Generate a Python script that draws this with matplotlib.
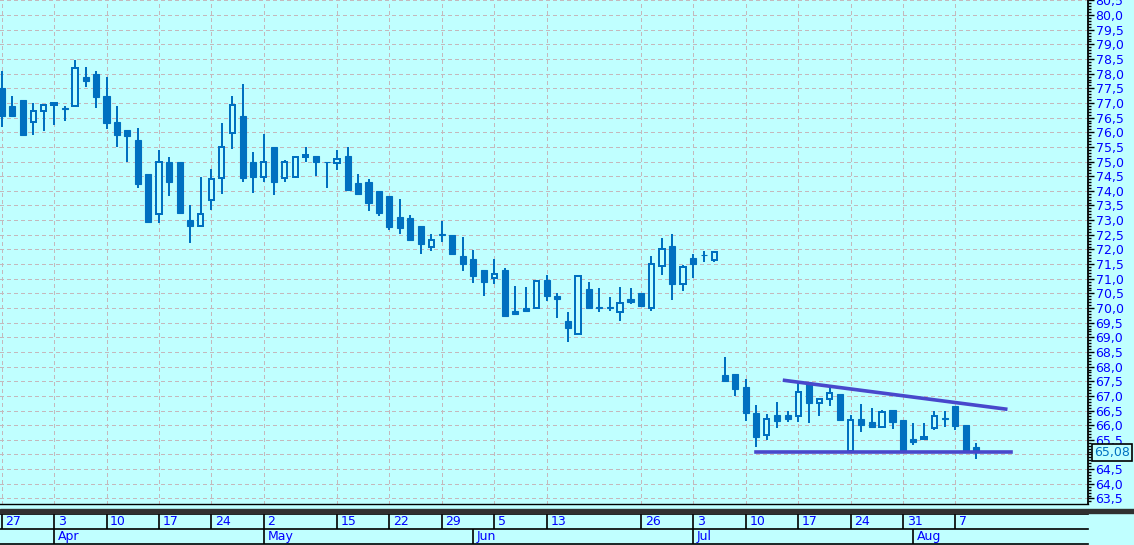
import numpy as np
import pandas as pd
import matplotlib
matplotlib.use('Agg')
from matplotlib import pyplot as plt
from matplotlib.ticker import MultipleLocator, FuncFormatter, FixedLocator
import matplotlib.transforms as mtransforms

# trading days (Russian market, 2017)
holidays = ['2017-05-01', '2017-05-08', '2017-05-09', '2017-06-12']
days = pd.bdate_range('2017-03-27', '2017-08-09')
days = days[~days.isin(pd.to_datetime(holidays))]

opens = [77.51, 76.91, 77.11, 76.34, 76.72, 76.93, 76.84, 76.90, 77.89, 78.00,
         77.25, 76.36, 76.08, 75.72, 74.58, 73.22, 75.00, 75.00, 73.02, 72.81,
         73.69, 74.44, 75.98, 76.57, 74.97, 74.47, 75.51, 74.44, 74.47, 75.16,
         75.19, 75.00, 74.94, 75.19, 74.27, 74.31, 74.00, 73.83, 73.11, 73.08,
         72.81, 72.08, 72.54, 72.50, 71.78, 71.68, 71.31, 71.02, 71.31, 69.91,
         70.01, 70.00, 70.97, 70.41, 69.57, 69.11, 70.66, 70.05, 70.05, 69.85,
         70.32, 70.52, 69.99, 71.45, 72.13, 70.81, 71.72, 71.81, 71.64, 67.72,
         67.75, 67.31, 66.41, 65.68, 66.34, 66.34, 66.30, 67.43, 66.75, 66.89,
         67.06, 65.13, 66.22, 66.11, 65.93, 66.51, 66.17, 65.52, 65.52, 65.90,
         66.25, 66.66, 66.01, 65.25]
closes = [76.57, 76.57, 75.92, 76.73, 76.93, 77.00, 76.80, 78.19, 77.76, 77.19,
          76.31, 75.90, 75.86, 74.23, 72.95, 75.00, 74.30, 73.24, 72.80, 73.22,
          74.41, 75.50, 76.94, 74.43, 74.47, 75.00, 74.30, 75.00, 75.16, 75.23,
          75.00, 75.00, 75.09, 74.03, 73.90, 73.57, 73.23, 72.75, 72.72, 72.31,
          72.17, 72.32, 72.50, 71.86, 71.49, 71.11, 70.90, 71.16, 69.72, 69.78,
          69.89, 70.93, 70.40, 70.30, 69.31, 71.09, 69.99, 69.99, 69.99, 70.18,
          70.19, 70.06, 71.50, 72.01, 70.81, 71.41, 71.49, 71.81, 71.91, 67.52,
          67.25, 66.40, 65.61, 66.20, 66.14, 66.20, 67.13, 66.75, 66.89, 67.09,
          66.18, 66.17, 66.02, 65.93, 66.44, 66.10, 65.13, 65.42, 65.59, 66.30,
          66.22, 65.98, 65.13, 65.08]
highs = [78.08, 77.25, 77.11, 76.99, 76.93, 77.00, 76.91, 78.48, 78.24, 78.10,
         77.88, 76.88, 76.08, 76.15, 74.58, 75.41, 75.14, 75.00, 73.53, 74.47,
         74.76, 76.33, 77.25, 77.66, 75.34, 75.95, 75.51, 75.06, 75.16, 75.51,
         75.19, 75.00, 75.38, 75.51, 74.58, 74.40, 74.00, 73.83, 73.73, 73.18,
         72.81, 72.52, 72.98, 72.50, 72.43, 71.99, 71.31, 71.67, 71.38, 70.76,
         70.73, 70.97, 71.14, 70.52, 69.88, 71.09, 70.90, 70.69, 70.39, 70.73,
         70.69, 70.52, 71.78, 72.40, 72.53, 71.47, 71.83, 71.95, 71.91, 68.34,
         67.75, 67.57, 66.69, 66.39, 66.80, 66.49, 67.47, 67.43, 66.89, 67.26,
         67.06, 66.34, 66.73, 66.58, 66.51, 66.51, 66.17, 66.07, 66.09, 66.49,
         66.49, 66.66, 66.01, 65.39]
lows = [76.19, 76.51, 75.92, 75.90, 76.06, 76.26, 76.38, 76.90, 77.53, 76.82,
        76.10, 75.51, 75.00, 74.09, 72.90, 72.90, 73.82, 73.24, 72.22, 72.81,
        73.35, 73.90, 75.42, 74.30, 73.92, 74.30, 73.85, 74.30, 74.43, 75.00,
        74.49, 74.09, 74.70, 74.03, 73.90, 73.30, 73.13, 72.65, 72.53, 72.31,
        71.83, 71.93, 72.26, 71.80, 71.25, 70.84, 70.40, 70.81, 69.72, 69.78,
        69.85, 70.00, 70.23, 69.65, 68.83, 69.11, 69.99, 69.85, 69.89, 69.55,
        70.13, 70.06, 69.89, 71.14, 70.28, 70.59, 71.02, 71.56, 71.56, 67.52,
        66.98, 66.15, 65.24, 65.50, 65.92, 66.10, 66.11, 66.09, 66.33, 66.67,
        66.13, 65.13, 65.78, 65.93, 65.93, 65.86, 65.13, 65.31, 65.52, 65.83,
        65.93, 65.82, 65.13, 64.86]

# hand-drawn triangle lines (bar index, price)
top_line_x = [74.7, 95.8]
top_line_y = [67.53, 66.55]
bottom_line_x = [72.0, 96.3]
bottom_line_y = [65.08, 65.08]
last_price = 65.08

week_dates = ['2017-03-27', '2017-04-03', '2017-04-10', '2017-04-17', '2017-04-24',
              '2017-05-02', '2017-05-15', '2017-05-22', '2017-05-29', '2017-06-05',
              '2017-06-13', '2017-06-26', '2017-07-03', '2017-07-10', '2017-07-17',
              '2017-07-24', '2017-07-31', '2017-08-07']
month_dates = ['2017-04-03', '2017-05-02', '2017-06-01', '2017-07-03', '2017-08-01']
month_names = ['Apr', 'May', 'Jun', 'Jul', 'Aug']

bg = '#c0ffff'
candle_col = '#0070c0'
line_col = '#4848cc'
grid_col = '#c4b8bc'
text_col = '#0000ff'


def comma(v):
    return f'{v:.1f}'.replace('.', ',')


W, H = 1134, 545
fig = plt.figure(figsize=(W / 100, H / 100), dpi=100, facecolor=bg)
ax_right = 1087.5
ax = fig.add_axes([0, (H - 504) / H, ax_right / W, 504 / H], facecolor=bg)

x = np.arange(len(days))
o = np.array(opens)
c = np.array(closes)
up = c > o

ax.vlines(x, lows, highs, color=candle_col, linewidth=1.44, zorder=2)
# falling bars: filled
ax.bar(x[~up], (o - c)[~up], bottom=c[~up], width=0.58,
       color=candle_col, edgecolor=candle_col, linewidth=0.8, zorder=3)
# rising bars: hollow
ax.bar(x[up], (c - o)[up], bottom=o[up], width=0.5,
       facecolor=bg, edgecolor=candle_col, linewidth=1.44, zorder=3)

ax.plot(top_line_x, top_line_y, color=line_col, linewidth=2.6, zorder=4)
ax.plot(bottom_line_x, bottom_line_y, color=line_col, linewidth=2.6, zorder=4)

px_per_bar = 10.48
ax.set_xlim(-1.7 / px_per_bar, (ax_right - 1.7) / px_per_bar)
ax.set_ylim(63.31, 80.515)

week_idx = [days.get_loc(pd.Timestamp(d)) for d in week_dates]
month_idx = [days.get_loc(pd.Timestamp(d)) for d in month_dates]

ax.xaxis.set_major_locator(FixedLocator(week_idx))
ax.tick_params(axis='x', length=0, labelbottom=False)

# the last-price box sits on top of the 65,0 label
hidden = round(last_price * 2) / 2
ax.yaxis.tick_right()
ax.yaxis.set_major_locator(MultipleLocator(0.5))
ax.yaxis.set_minor_locator(MultipleLocator(0.1))
ax.yaxis.set_major_formatter(FuncFormatter(lambda v, p: '' if abs(v - hidden) < 1e-6 else comma(v)))
ax.tick_params(axis='y', which='major', length=4, width=1, pad=1.8,
               labelsize=9, labelcolor=text_col, color='black')
ax.tick_params(axis='y', which='minor', length=2.4, width=1, color='black')

ax.grid(True, color=grid_col, linestyle=(0, (4, 3)), linewidth=0.72, antialiased=False)
ax.set_axisbelow(True)

for s in ['top', 'left']:
    ax.spines[s].set_visible(False)
ax.spines['right'].set_linewidth(1.3)
ax.spines['bottom'].set_linewidth(1.0)

# last price box
trans = mtransforms.blended_transform_factory(ax.transAxes, ax.transData)
ax.text(1.0058, last_price, f'{last_price:.2f}'.replace('.', ','), transform=trans,
        ha='left', va='center', fontsize=9, color=candle_col, clip_on=False, zorder=10,
        bbox=dict(boxstyle='square,pad=0.15', facecolor=bg, edgecolor='black', linewidth=1.2))

# dark separator bar
fig.patches.append(plt.Rectangle((0, (H - 512.7) / H), 1, 3.4 / H,
                                 transform=fig.transFigure, color='#303030', zorder=5))

# date strip
ax2 = fig.add_axes([0, 1 / H, ax_right / W, 30 / H], facecolor=bg)
ax2.set_xlim(ax.get_xlim())
ax2.set_ylim(0, 1)
ax2.axis('off')
for yy in [0, 0.5, 1]:
    ax2.axhline(yy, color='black', linewidth=1.2, clip_on=False)
ax2.vlines(week_idx, 0.5, 1, color='black', linewidth=1.2)
ax2.vlines(month_idx, 0, 0.5, color='black', linewidth=1.2)
for i, d in zip(week_idx, week_dates):
    ax2.text(i + 0.35, 0.74, str(pd.Timestamp(d).day), fontsize=9,
             color=text_col, ha='left', va='center')
for i, m in zip(month_idx, month_names):
    ax2.text(i + 0.35, 0.24, m, fontsize=9, color=text_col, ha='left', va='center')

fig.savefig('out.png', dpi=100, facecolor=bg)
